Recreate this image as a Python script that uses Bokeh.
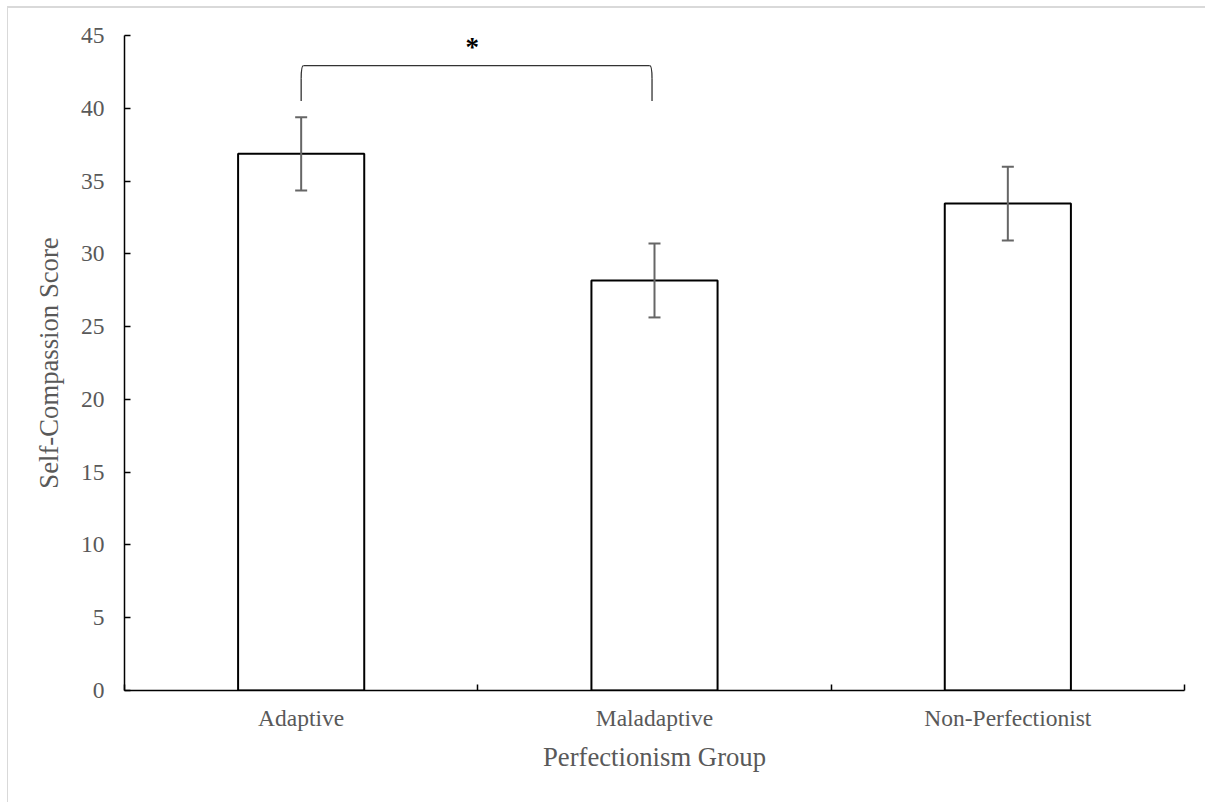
from bokeh.plotting import figure
from bokeh.models import Range1d, FixedTicker, ColumnDataSource, Whisker, TeeHead
from bokeh.embed import file_html
from bokeh.resources import INLINE
from bokeh.core.properties import value

# ---- data ----
categories = ["Adaptive", "Maladaptive", "Non-Perfectionist"]
means = [36.87, 28.17, 33.45]
errors = [2.52, 2.54, 2.53]
y_ticks = [0, 5, 10, 15, 20, 25, 30, 35, 40, 45]
sig_pair = ("Adaptive", "Maladaptive")
sig_label = "*"

FONT = "Liberation Serif"
GRAY_TXT = "#595959"
ERR_COL = "#666666"

xpos = [i + 0.5 for i in range(len(categories))]
src = ColumnDataSource(dict(
    x=xpos,
    top=means,
    upper=[m + e for m, e in zip(means, errors)],
    lower=[m - e for m, e in zip(means, errors)],
))

p = figure(width=1205, height=802,
           x_range=Range1d(0, len(categories)), y_range=Range1d(0, 45),
           output_backend="svg", toolbar_location=None,
           min_border_left=124, min_border_top=35,
           min_border_right=21, min_border_bottom=112)
p.styles = {"background-color": "white",
            "box-shadow": "inset 7px 6px 0 0 white, inset 8px 8px 0 0 #d9d9d9"}
p.outline_line_color = None
p.grid.visible = False
p.background_fill_color = "white"
p.border_fill_color = None

# bars
p.vbar(x="x", top="top", width=0.357, source=src,
       fill_color="white", line_color="black", line_width=2)

# error bars
w = Whisker(source=src, base="x", upper="upper", lower="lower",
            line_color=ERR_COL, line_width=2, level="overlay",
            upper_head=TeeHead(size=12, line_color=ERR_COL, line_width=2),
            lower_head=TeeHead(size=12, line_color=ERR_COL, line_width=2))
p.add_layout(w)

# significance bracket
i0 = categories.index(sig_pair[0])
i1 = categories.index(sig_pair[1])
bx0 = xpos[i0]
bx1 = xpos[i1] - 0.007
by_low = 40.5
by_top = 42.93
ry = 0.9
rx = 0.0065
bcol = "#333333"
bw = 1.3
p.line([bx0, bx0], [by_low, by_top - ry], line_color=bcol, line_width=bw)
p.line([bx1, bx1], [by_low, by_top - ry], line_color=bcol, line_width=bw)
p.quadratic(x0=[bx0, bx1], y0=[by_top - ry, by_top - ry],
            x1=[bx0 + rx, bx1 - rx], y1=[by_top, by_top],
            cx=[bx0, bx1], cy=[by_top, by_top],
            line_color=bcol, line_width=bw)
p.line([bx0 + rx, bx1 - rx], [by_top, by_top], line_color=bcol, line_width=bw)
p.text(x=[(bx0 + bx1) / 2 - 0.012], y=[44.2], text=[sig_label],
       text_font=value(FONT), text_font_size="27px", text_font_style="bold",
       text_align="center", text_baseline="alphabetic", text_color="black")

# y axis
ya = p.yaxis[0]
ya.ticker = FixedTicker(ticks=y_ticks)
ya.axis_line_color = "black"
ya.axis_line_width = 1.5
ya.major_tick_line_color = "black"
ya.major_tick_line_width = 1.5
ya.major_tick_in = 6
ya.major_tick_out = 0
ya.minor_tick_line_color = None
ya.major_label_text_font = FONT
ya.major_label_text_font_size = "23.5px"
ya.major_label_text_color = GRAY_TXT
ya.major_label_standoff = 20
ya.axis_label = "Self-Compassion Score"
ya.axis_label_text_font = FONT
ya.axis_label_text_font_size = "26.7px"
ya.axis_label_text_font_style = "normal"
ya.axis_label_text_color = GRAY_TXT
ya.axis_label_standoff = 14

# x axis
xa = p.xaxis[0]
xa.ticker = FixedTicker(ticks=xpos, minor_ticks=list(range(len(categories) + 1)))
xa.major_label_overrides = {x: c for x, c in zip(xpos, categories)}
xa.axis_line_color = "black"
xa.axis_line_width = 1.5
xa.major_tick_line_color = None
xa.major_tick_in = 0
xa.major_tick_out = 0
xa.minor_tick_line_color = "black"
xa.minor_tick_line_width = 1.5
xa.minor_tick_in = 6
xa.minor_tick_out = 0
xa.major_label_text_font = FONT
xa.major_label_text_font_size = "23.5px"
xa.major_label_text_color = GRAY_TXT
xa.major_label_standoff = 14
xa.axis_label = "Perfectionism Group"
xa.axis_label_text_font = FONT
xa.axis_label_text_font_size = "26.7px"
xa.axis_label_text_font_style = "normal"
xa.axis_label_text_color = GRAY_TXT
xa.axis_label_standoff = 8

open("out.html", "w").write(file_html(p, INLINE))
